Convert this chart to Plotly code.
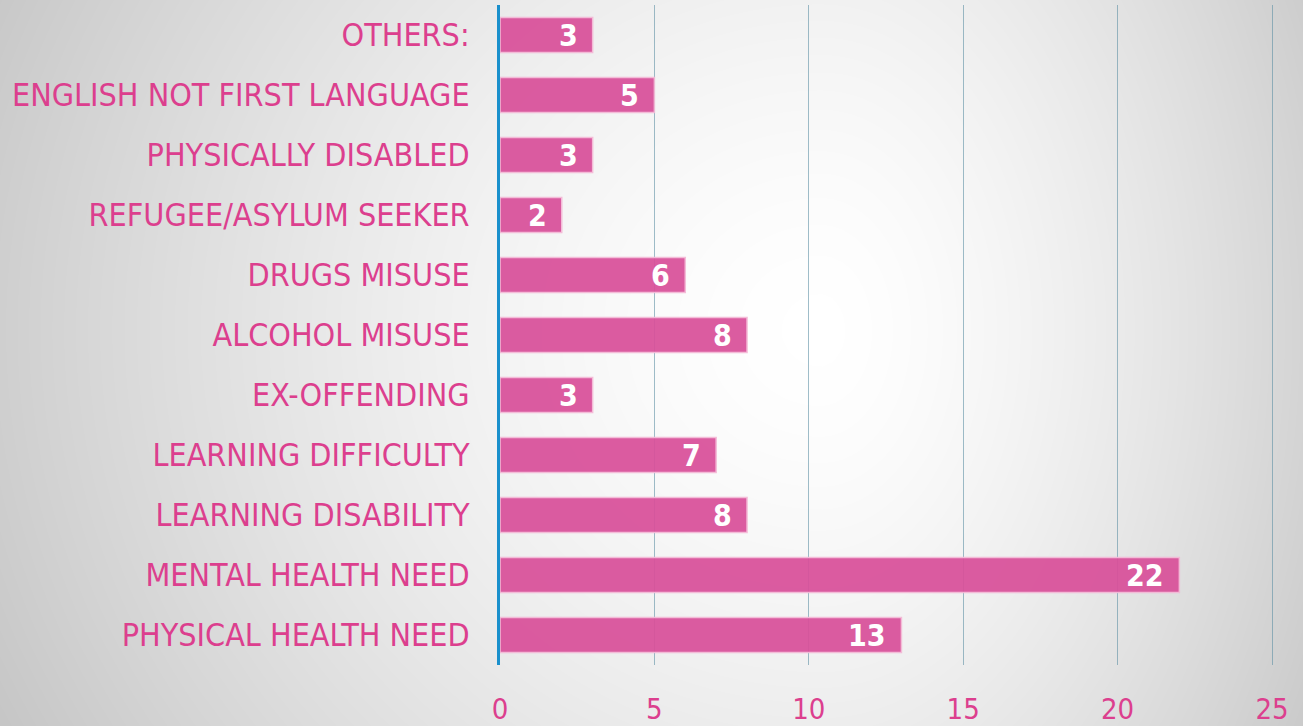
import numpy as np
import plotly.graph_objects as go

# categories bottom -> top, as they appear on the chart
categories = [
    "PHYSICAL HEALTH NEED",
    "MENTAL HEALTH NEED",
    "LEARNING DISABILITY",
    "LEARNING DIFFICULTY",
    "EX-OFFENDING",
    "ALCOHOL MISUSE",
    "DRUGS MISUSE",
    "REFUGEE/ASYLUM SEEKER",
    "PHYSICALLY DISABLED",
    "ENGLISH NOT FIRST LANGUAGE",
    "OTHERS:",
]
counts = [13, 22, 8, 7, 3, 8, 6, 2, 3, 5, 3]
x_ticks = [0, 5, 10, 15, 20, 25]

W, H = 1303, 726
PINK = "#DC3F8E"
FONT = "DejaVu Sans Condensed, DejaVu Sans, sans-serif"

# grey backdrop, white in the middle (decorative only)
gx = np.linspace(-20, W + 20, 135)
gy = np.linspace(-20, H + 20, 78)
XX, YY = np.meshgrid(gx, gy)
cx, cy = 820, 330
rx = np.where(XX < cx, (XX - cx) / 820, (XX - cx) / 520)
ry = (YY - cy) / 760
r = np.sqrt(rx**2 + ry**2)
shade = np.clip(255 - 48 * r**1.5, 192, 255)

fig = go.Figure()
fig.add_trace(go.Heatmap(
    x=gx, y=gy, z=shade, zmin=0, zmax=255,
    colorscale=[[0, "rgb(0,0,0)"], [1, "rgb(255,255,255)"]],
    zsmooth="best", showscale=False, hoverinfo="skip",
    xaxis="x", yaxis="y",
))

fig.add_trace(go.Bar(
    x=counts, y=categories, orientation="h",
    marker=dict(color="#D9509A", line=dict(color="#F4B8D6", width=1.5)),
    opacity=0.93, width=0.58,
    xaxis="x2", yaxis="y2", hoverinfo="x+y",
))

for c, v in zip(categories, counts):
    fig.add_annotation(
        x=v, y=c, xref="x2", yref="y2", text=str(v),
        xanchor="right", xshift=-13, showarrow=False,
        font=dict(family=FONT, size=30, color="white", weight="bold"),
    )

x0_px = 500
px_per_unit = (1272 - 500) / 25
xmax = 25.1
fig.update_layout(
    width=W, height=H,
    margin=dict(l=0, r=0, t=0, b=0),
    paper_bgcolor="#dcdcdc",
    plot_bgcolor="rgba(0,0,0,0)",
    showlegend=False,
    xaxis=dict(domain=[0, 1], range=[0, W], visible=False, fixedrange=True, automargin=False),
    yaxis=dict(domain=[0, 1], range=[H, 0], visible=False, fixedrange=True, automargin=False),
    xaxis2=dict(
        domain=[x0_px / W, (x0_px + xmax * px_per_unit) / W],
        range=[0, xmax], anchor="y2", automargin=False,
        tickvals=x_ticks, ticks="",
        showgrid=True, gridcolor="rgba(95,145,165,0.6)", gridwidth=1.2,
        zeroline=False, showline=False,
        tickfont=dict(family=FONT, size=29, color=PINK),
        ticklabelstandoff=24,
    ),
    yaxis2=dict(
        domain=[61 / H, 721 / H],
        range=[-0.5, 10.5], anchor="x2", automargin=False,
        categoryorder="array", categoryarray=categories,
        showline=True, linecolor="#1A90CC", linewidth=3,
        ticks="", showgrid=False, zeroline=False,
        tickfont=dict(family=FONT, size=32, color=PINK),
        ticklabelstandoff=21,
    ),
)

fig.write_html("out.html", post_script="document.body.style.margin='0';",
               config={"displayModeBar": False})
